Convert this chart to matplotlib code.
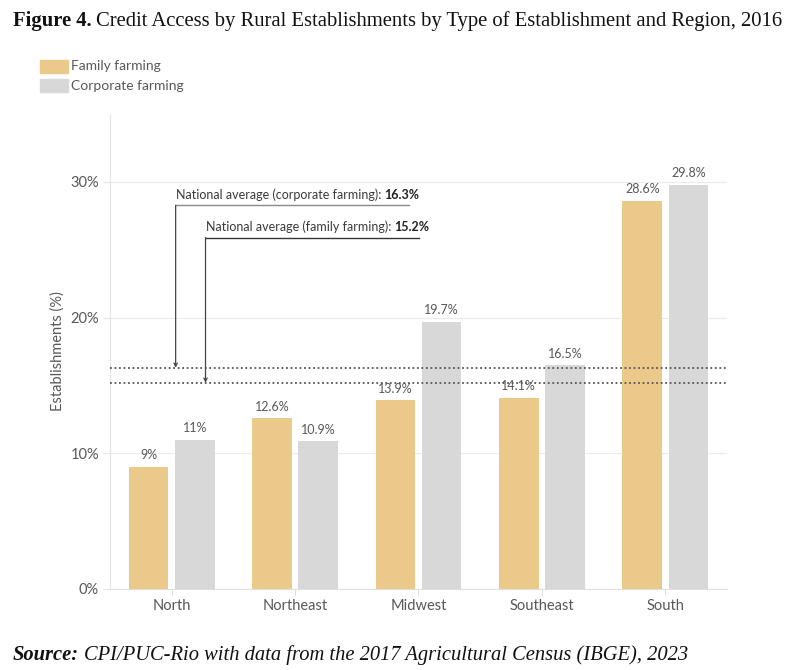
import matplotlib
matplotlib.use("Agg")
import matplotlib.pyplot as plt
import numpy as np
from matplotlib.patches import Rectangle

regions = ["North", "Northeast", "Midwest", "Southeast", "South"]
family = [9.0, 12.6, 13.9, 14.1, 28.6]
corporate = [11.0, 10.9, 19.7, 16.5, 29.8]
family_labels = ["9%", "12.6%", "13.9%", "14.1%", "28.6%"]
corporate_labels = ["11%", "10.9%", "19.7%", "16.5%", "29.8%"]
avg_corporate = 16.3
avg_family = 15.2
yticks = [0, 10, 20, 30]
ytick_labels = ["0%", "10%", "20%", "30%"]

FAM_C = "#EAC98A"
CORP_C = "#D8D8D8"
TXT = "#585858"
SANS = ["Lato", "DejaVu Sans"]
SERIF = ["Liberation Serif", "DejaVu Serif"]
WT = "normal"

fig = plt.figure(figsize=(8.12, 6.70), dpi=100)
ax = fig.add_axes([110/812, 1-589/670, 617/812, (589-114)/670])

x = np.arange(len(regions))
w = 0.32
off = 0.187
ax.bar(x - off, family, width=w, color=FAM_C, zorder=3)
ax.bar(x + off, corporate, width=w, color=CORP_C, zorder=3)

for xi, v, t in zip(x, family, family_labels):
    ax.text(xi - off, v + 0.4, t, ha="center", va="bottom", fontsize=9,
            color=TXT, family=SANS, fontweight=WT)
for xi, v, t in zip(x, corporate, corporate_labels):
    ax.text(xi + off, v + 0.4, t, ha="center", va="bottom", fontsize=9,
            color=TXT, family=SANS, fontweight=WT)

ax.set_xlim(-0.5, 4.5)
ax.set_ylim(0, 35)
ax.set_yticks(yticks)
ax.set_yticklabels(ytick_labels)
ax.set_xticks(x)
ax.set_xticklabels(regions)
ax.yaxis.grid(True, color="#EBEBEB", lw=0.8, zorder=0)
ax.set_axisbelow(True)
for s in ["top", "right"]:
    ax.spines[s].set_visible(False)
ax.spines["left"].set_color("#E6E6E6")
ax.spines["bottom"].set_color("#E0E0E0")
ax.tick_params(axis="y", length=5, color="#E6E6E6", labelcolor=TXT, labelsize=10.5, pad=3)
ax.tick_params(axis="x", length=5, color="#E0E0E0", labelcolor=TXT, labelsize=10.5, pad=2)
for lab in ax.get_xticklabels() + ax.get_yticklabels():
    lab.set_family(SANS)
    lab.set_fontweight(WT)
ax.set_ylabel("Establishments (%)", fontsize=10.5, color=TXT, family=SANS,
              fontweight=WT, labelpad=4)

# national average lines
ax.axhline(avg_corporate, color="#555555", lw=1.3, ls=(0, (1, 1.5)), zorder=4)
ax.axhline(avg_family, color="#555555", lw=1.3, ls=(0, (1, 1.5)), zorder=4)

# annotations
cx0, cx1, cy = 0.032, 1.92, 28.27
fx0, fx1, fy = 0.274, 2.008, 25.9
ax.plot([cx0, cx1], [cy, cy], color="#888888", lw=1.0, zorder=5)
ax.annotate("", xy=(cx0, avg_corporate), xytext=(cx0, cy),
            arrowprops=dict(arrowstyle="->", color="#444444", lw=0.9, shrinkA=0, shrinkB=0,
                            mutation_scale=6), zorder=5)
ax.plot([fx0, fx1], [fy, fy], color="#333333", lw=1.0, zorder=5)
ax.annotate("", xy=(fx0, avg_family), xytext=(fx0, fy),
            arrowprops=dict(arrowstyle="->", color="#444444", lw=0.9, shrinkA=0, shrinkB=0,
                            mutation_scale=6), zorder=5)

fig.canvas.draw()
r = fig.canvas.get_renderer()
t1 = ax.text(cx0, cy + 0.35, "National average (corporate farming): ", fontsize=9,
             color="#3A3A3A", family=SANS, fontweight=WT, va="bottom", ha="left")
bb = t1.get_window_extent(r)
xe = ax.transData.inverted().transform((bb.x1, bb.y0))[0]
ax.text(xe, cy + 0.35, "16.3%", fontsize=9, color="#222222", family=SANS,
        fontweight="bold", va="bottom", ha="left")
t2 = ax.text(fx0, fy + 0.35, "National average (family farming): ", fontsize=9,
             color="#3A3A3A", family=SANS, fontweight=WT, va="bottom", ha="left")
bb = t2.get_window_extent(r)
xe = ax.transData.inverted().transform((bb.x1, bb.y0))[0]
ax.text(xe, fy + 0.35, "15.2%", fontsize=9, color="#222222", family=SANS,
        fontweight="bold", va="bottom", ha="left")

# legend
fig.patches.append(Rectangle((40/812, 1-73/670), 28/812, 13/670, transform=fig.transFigure,
                             color=FAM_C))
fig.patches.append(Rectangle((40/812, 1-92/670), 28/812, 13/670, transform=fig.transFigure,
                             color=CORP_C))
fig.text(71/812, 1-66.5/670, "Family farming", fontsize=10, color=TXT, family=SANS,
         fontweight=WT, va="center")
fig.text(71/812, 1-85.5/670, "Corporate farming", fontsize=10, color=TXT, family=SANS,
         fontweight=WT, va="center")

# title
tt = fig.text(13/812, 1-26/670, "Figure 4.", fontsize=14.9, fontweight="bold", family=SERIF,
              color="#111111", va="baseline")
bb = tt.get_window_extent(r)
fig.text(bb.x1/812 + 4/812, 1-26/670,
         "Credit Access by Rural Establishments by Type of Establishment and Region, 2016",
         fontsize=14.9, family=SERIF, color="#111111", va="baseline")

# source
ts = fig.text(13/812, 1-660/670, "Source:", fontsize=14.8, fontweight="bold", style="italic",
              family=SERIF, color="#111111", va="baseline")
bb = ts.get_window_extent(r)
fig.text(bb.x1/812 + 5/812, 1-660/670,
         "CPI/PUC-Rio with data from the 2017 Agricultural Census (IBGE), 2023",
         fontsize=14.8, style="italic", family=SERIF, color="#111111", va="baseline")

fig.savefig("out.png", dpi=100)
